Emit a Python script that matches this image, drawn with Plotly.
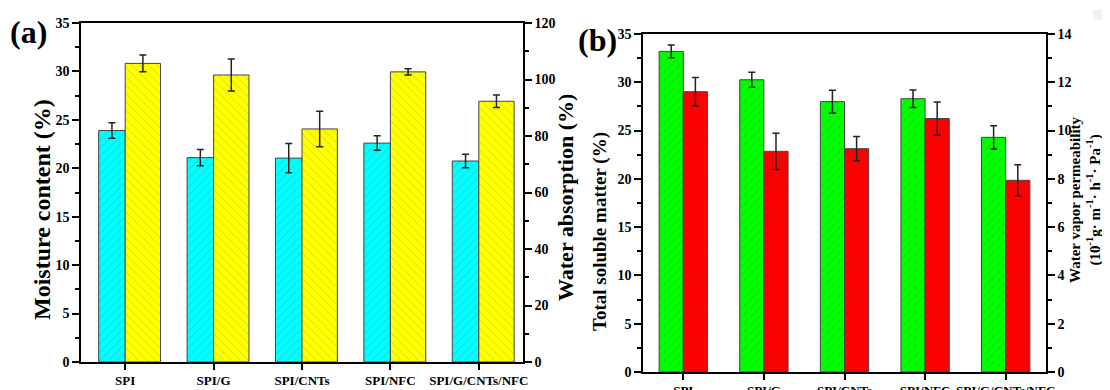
import plotly.graph_objects as go

categories = ["SPI", "SPI/G", "SPI/CNTs", "SPI/NFC", "SPI/G/CNTs/NFC"]

# Panel (a)
moisture = [23.9, 21.1, 21.05, 22.6, 20.75]
moisture_err = [0.8, 0.85, 1.5, 0.75, 0.7]
water_abs = [105.7, 101.6, 82.5, 102.7, 92.3]
water_abs_err = [3.0, 5.7, 6.3, 1.1, 2.2]

# Panel (b)
tsm = [33.2, 30.26, 28.0, 28.3, 24.3]
tsm_err = [0.65, 0.78, 1.17, 0.9, 1.2]
wvp = [11.61, 9.14, 9.25, 10.5, 7.94]
wvp_err = [0.59, 0.75, 0.5, 0.68, 0.64]

FONT = "Liberation Serif"
HATCH = "rgba(60,60,60,0.55)"
EDGE = "#444444"
W, H = 1110, 390
OFF = 8  # page body margin in the browser


def px(x, y):
    return (x - OFF) / W, 1 - (y - OFF) / H


def xdom(a, b):
    return [px(a, 0)[0], px(b, 0)[0]]


def ydom(bottom, top):
    return [px(0, bottom)[1], px(0, top)[1]]


def bar(x, y, err, color, shape, offset, width, xa, ya):
    return go.Bar(
        x=x, y=y, xaxis=xa, yaxis=ya,
        offset=offset, width=width,
        marker=dict(color=color, line=dict(color=EDGE, width=1),
                    pattern=dict(shape=shape, fgcolor=HATCH, size=6, solidity=0.12)),
        error_y=dict(type="data", array=err, color="#222222", thickness=1.5, width=3.5),
        showlegend=False,
    )


fig = go.Figure()
fig.add_trace(bar(categories, moisture, moisture_err, "#00FFFF", "/", -0.3, 0.3, "x", "y"))
fig.add_trace(bar(categories, water_abs, water_abs_err, "#FFFF00", "\\", 0.0, 0.4, "x", "y2"))
fig.add_trace(bar(categories, tsm, tsm_err, "#00FF00", "/", -0.3, 0.3, "x2", "y3"))
fig.add_trace(bar(categories, wvp, wvp_err, "#FF0000", "\\", 0.0, 0.3, "x2", "y4"))

tickfont = dict(family=FONT, size=14, color="black")
common_y = dict(showline=True, linecolor="black", linewidth=1.5, ticks="outside",
                ticklen=7, tickwidth=1.5, tickcolor="black", showgrid=False,
                zeroline=False, tickfont=tickfont, automargin=False)
minor_y = dict(ticks="outside", ticklen=4, tickcolor="black", tickwidth=1.5, showgrid=False)
common_x = dict(showline=True, linecolor="black", linewidth=1.5, mirror=True,
                ticks="outside", ticklen=6, tickwidth=1.5, tickcolor="black",
                showgrid=False, range=[-0.5, 4.5], tickangle=0, automargin=False,
                tickfont=dict(family=FONT, size=13, color="black"))

fig.update_layout(
    width=W, height=H,
    margin=dict(l=0, r=0, t=0, b=0, autoexpand=False),
    paper_bgcolor="white", plot_bgcolor="white",
    barmode="overlay",
    font=dict(family=FONT, color="black"),
    xaxis=dict(domain=xdom(81, 523), anchor="y",
               tickvals=categories, ticktext=["<b>%s</b>" % c for c in categories], **common_x),
    yaxis=dict(domain=ydom(362, 23), anchor="x", range=[0, 35], dtick=5,
               minor=dict(dtick=2.5, **minor_y),
               tickprefix="<b>", ticksuffix="</b>", **common_y),
    yaxis2=dict(overlaying="y", side="right", anchor="x", range=[0, 120], dtick=20,
                minor=dict(dtick=10, **minor_y),
                tickprefix="<b>", ticksuffix="</b>", **common_y),
    xaxis2=dict(domain=xdom(643, 1046), anchor="y3",
                tickvals=categories, ticktext=["<b>%s</b>" % c for c in categories], **common_x),
    yaxis3=dict(domain=ydom(372, 34), anchor="x2", range=[0, 35], dtick=5,
                minor=dict(dtick=2.5, **minor_y),
                tickprefix="<b>", ticksuffix="</b>", **common_y),
    yaxis4=dict(overlaying="y3", side="right", anchor="x2", range=[0, 14], dtick=2,
                minor=dict(dtick=1, **minor_y),
                tickprefix="<b>", ticksuffix="</b>", **common_y),
)


def label(text, x, y, size, angle=0, xanchor="center"):
    ax_, ay_ = px(x, y)
    fig.add_annotation(text=text, x=ax_, y=ay_, xref="paper", yref="paper", showarrow=False,
                       textangle=angle, xanchor=xanchor, yanchor="middle", align="center",
                       font=dict(family=FONT, size=size, color="black"))


label("<b>(a)</b>", 8, 32, 32, xanchor="left")
label("<b>(b)</b>", 576, 40, 32, xanchor="left")
label("<b>Moisture content (%)</b>", 42, 210, 24, angle=-90)
label("<b>Water absorption (%)</b>", 565, 198, 22, angle=-90)
label("<b>Total soluble matter (%)</b>", 600, 232, 19, angle=-90)
label("<b>Water vapor permeability<br>(10<sup>-1</sup>g· m<sup>-1</sup>· h<sup>-1</sup>· Pa<sup>-1</sup>)</b>",
      1085, 200, 15, angle=-90)

x0, y0 = px(1093, 20)
x1, y1 = px(1118, 10)
fig.add_shape(type="rect", xref="paper", yref="paper",
              x0=x0, x1=x1, y0=y0, y1=y1,
              fillcolor="#EAF6F6", line=dict(width=0), layer="below")

fig.write_html("out.html")
